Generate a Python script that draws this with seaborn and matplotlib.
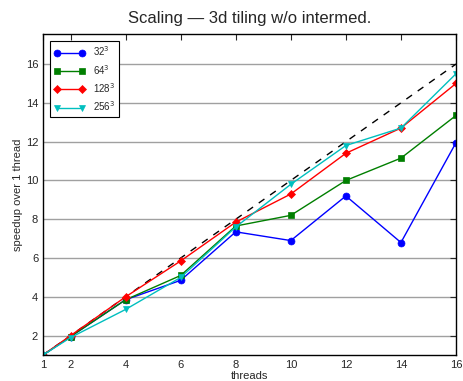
import matplotlib
matplotlib.use('Agg')
import numpy as np
import pandas as pd
import matplotlib.pyplot as plt
import seaborn as sns

threads = [1, 2, 4, 6, 8, 10, 12, 14, 16]
s32 = [1, 1.95, 3.85, 4.85, 7.35, 6.9, 9.2, 6.8, 11.95]
s64 = [1, 1.95, 3.85, 5.1, 7.65, 8.2, 10.0, 11.15, 13.35]
s128 = [1, 2.0, 4.0, 5.85, 7.85, 9.3, 11.4, 12.7, 15.0]
s256 = [1, 1.9, 3.35, 5.0, 7.6, 9.8, 11.8, 12.7, 15.5]
labels = ['32$^3$', '64$^3$', '128$^3$', '256$^3$']
colors = ['#0000ff', '#007f00', '#ff0000', '#00bfbf']

sns.set_style('white')
plt.rcParams['font.family'] = ['Liberation Sans', 'DejaVu Sans']

fig = plt.figure(figsize=(4.64, 3.81), dpi=100)
ax = fig.add_axes([0.0927, 0.0682, 0.8901, 0.8426])

tex = pd.DataFrame({'threads': threads * 4,
                    'speedup': s32 + s64 + s128 + s256,
                    'size': sum([[l] * len(threads) for l in labels], [])})

sns.lineplot(data=tex, x='threads', y='speedup', hue='size', style='size',
             palette=colors, markers=['o', 's', 'D', 'v'], dashes=False,
             markersize=5, linewidth=1, ax=ax)
for line in ax.lines:
    line.set_markeredgecolor(line.get_color())
    line.set_markeredgewidth(0.5)
    if line.get_marker() == 'D':
        line.set_markersize(4)
ax.plot([1, 16], [1, 16], color='black', linestyle=(0, (5, 5)), linewidth=1, zorder=1)

ax.set_xlim(1, 16)
ax.set_ylim(1, 17.55)
ax.set_xticks(threads)
ax.set_yticks([2, 4, 6, 8, 10, 12, 14, 16])
ax.yaxis.grid(True, color='#a0a0a0', linewidth=1)
ax.tick_params(direction='in', labelsize=8, top=True, right=True, length=4, width=0.8)
for sp in ax.spines.values():
    sp.set_color('black')
    sp.set_linewidth(1)
ax.set_xlabel('threads', fontsize=8, labelpad=1)
ax.set_ylabel('speedup over 1 thread', fontsize=8, labelpad=2)
ax.set_title('Scaling \u2014 3d tiling w/o intermed.', fontsize=12, pad=8)

handles, lbls = ax.get_legend_handles_labels()
for h in handles:
    h.set_markeredgecolor(h.get_color())
    if h.get_marker() == 'D':
        h.set_markersize(4)
leg = ax.legend(handles[:4], lbls[:4], loc='upper left', fontsize=7, frameon=True,
                fancybox=False, edgecolor='black', framealpha=1, numpoints=2,
                borderaxespad=0.7, handlelength=3.2, labelspacing=0.45,
                borderpad=0.4, handletextpad=0.8)
leg.get_frame().set_linewidth(0.8)

fig.savefig('out.png', dpi=100)
